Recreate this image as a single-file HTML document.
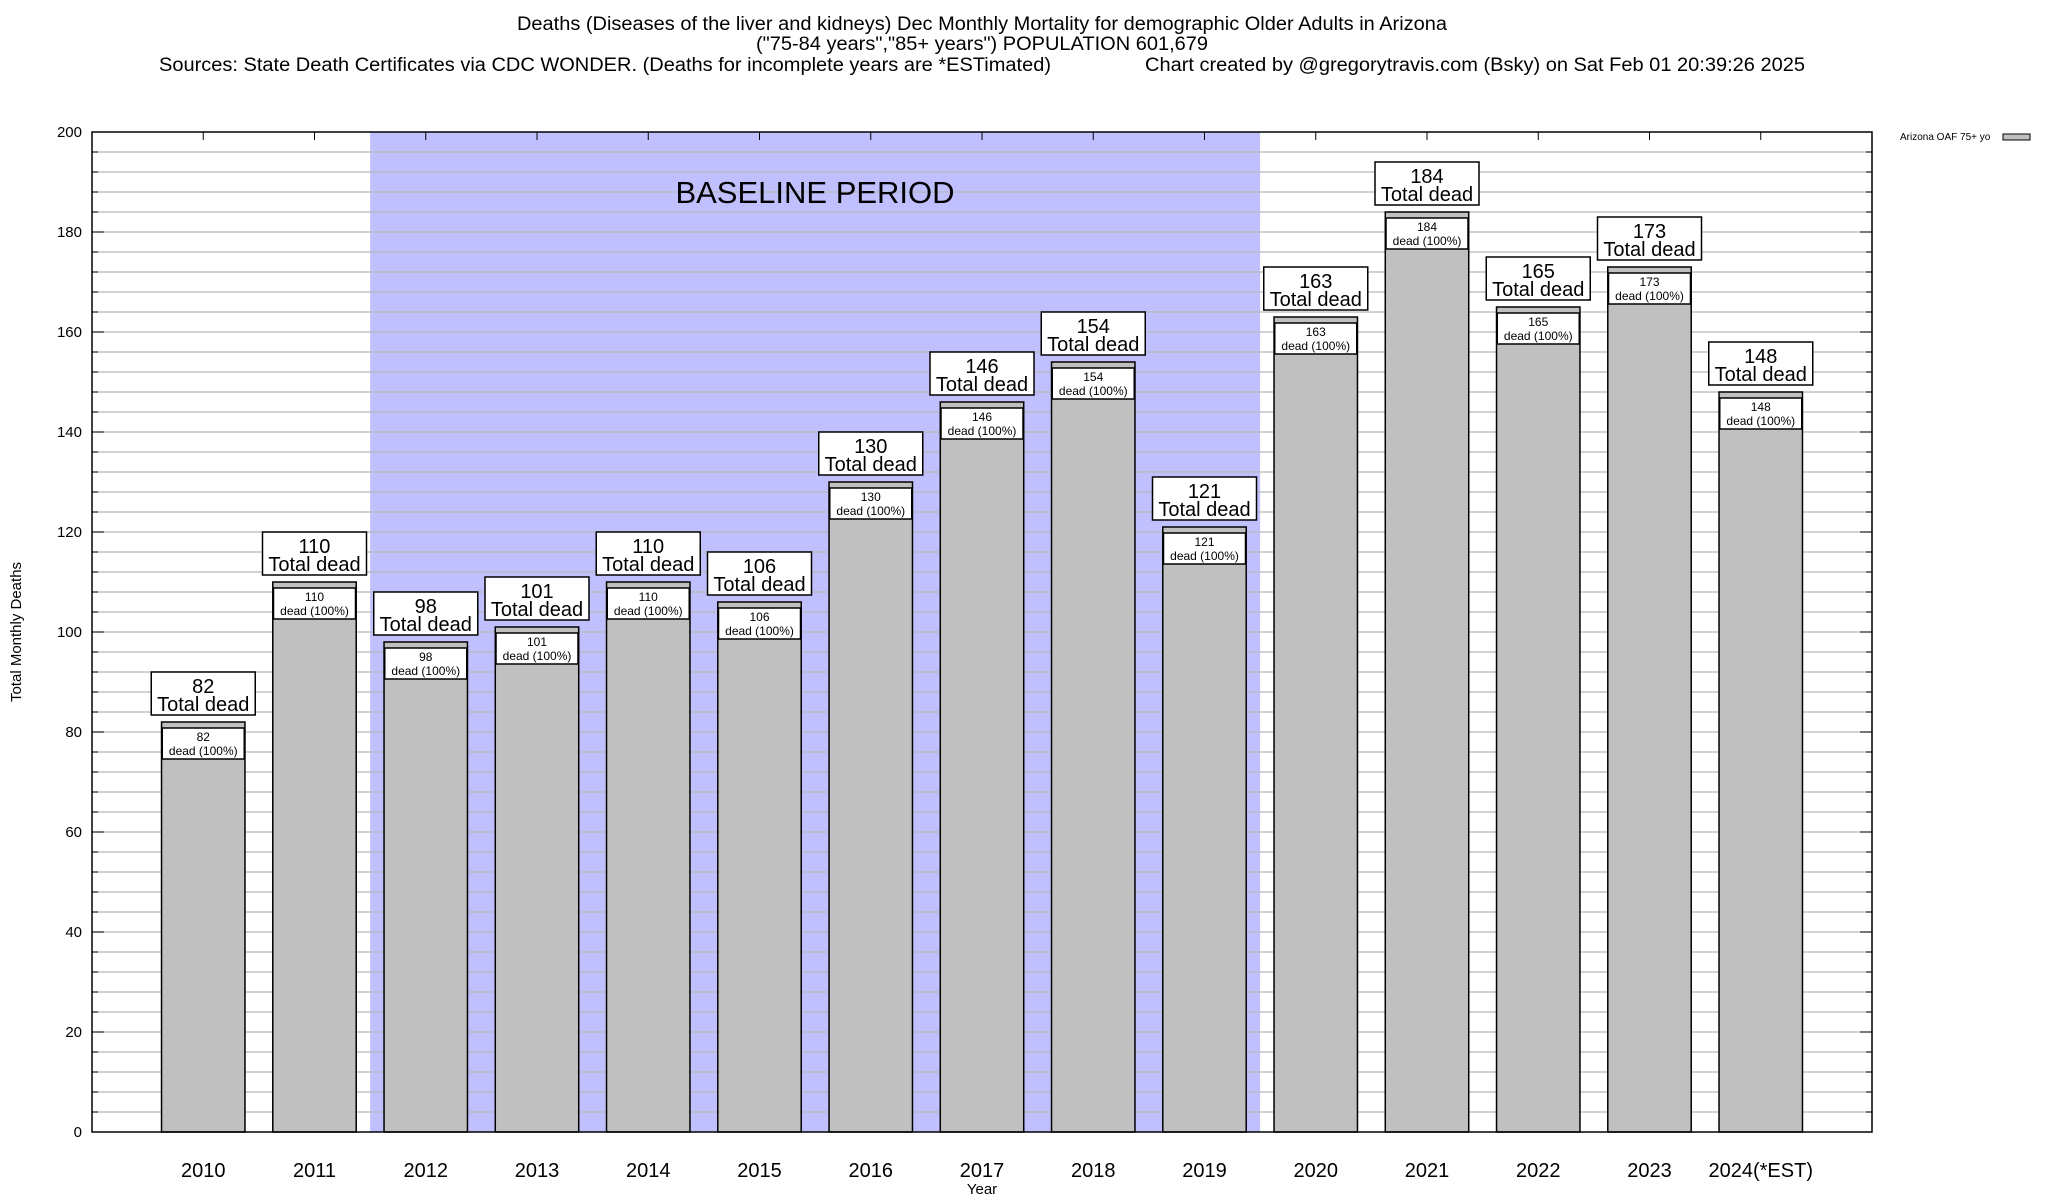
<!DOCTYPE html>
<html><head><meta charset="utf-8"><style>
body{margin:0;background:#fff}
svg{display:block;font-family:"Liberation Sans",sans-serif}
</style></head><body>
<svg id="c" width="2048" height="1200" xmlns="http://www.w3.org/2000/svg">
<text x="982" y="30" font-size="19" text-anchor="middle" textLength="930" lengthAdjust="spacingAndGlyphs">Deaths (Diseases of the liver and kidneys) Dec Monthly Mortality for demographic Older Adults in Arizona</text>
<text x="982" y="50" font-size="19" text-anchor="middle" textLength="452" lengthAdjust="spacingAndGlyphs">("75-84 years","85+ years") POPULATION 601,679</text>
<text x="159" y="71" font-size="19" textLength="892" lengthAdjust="spacingAndGlyphs">Sources: State Death Certificates via CDC WONDER. (Deaths for incomplete years are *ESTimated)</text>
<text x="1145" y="71" font-size="19" textLength="660" lengthAdjust="spacingAndGlyphs">Chart created by @gregorytravis.com (Bsky) on Sat Feb 01 20:39:26 2025</text>
<g id="plot"></g>
<text x="1900" y="140" font-size="10">Arizona OAF 75+ yo</text>
<rect x="2003" y="134" width="27" height="6" fill="#c0c0c0" stroke="#000"/>
<text transform="translate(21,632) rotate(-90)" font-size="15" text-anchor="middle">Total Monthly Deaths</text>
<text x="982" y="1194" font-size="15" text-anchor="middle">Year</text>
</svg>
<script>
const categories=["2010","2011","2012","2013","2014","2015","2016","2017","2018","2019","2020","2021","2022","2023","2024(*EST)"];
const deaths=[82,110,98,101,110,106,130,146,154,121,163,184,165,173,148];
const yTicks=[0,20,40,60,80,100,120,140,160,180,200];
const baselineStart="2012", baselineEnd="2019";
const L=92,R=1872,T=132,B=1132,YMAX=200;
const slot=(R-L)/(categories.length+1);
const xc=i=>L+slot*(i+1);
const y=v=>B-(v/YMAX)*(B-T);
const NS="http://www.w3.org/2000/svg";
const g=document.getElementById('plot');
function mk(t,a,p){const e=document.createElementNS(NS,t);for(const k in a)e.setAttribute(k,a[k]);(p||g).appendChild(e);return e;}
const bs=categories.indexOf(baselineStart),be=categories.indexOf(baselineEnd);
let sh=mk('rect',{x:xc(bs)-slot/2,y:T,width:slot*(be-bs+1),height:B-T,fill:'#c0c0ff'});


for(let v=4;v<YMAX;v+=4){
 let l=mk('line',{x1:L,x2:R,y1:y(v),y2:y(v),stroke:'#b8b8b8','stroke-width':1.3});
 
 
 mk('line',{x1:L,x2:L+6,y1:y(v),y2:y(v),stroke:'#000'});
 mk('line',{x1:R-6,x2:R,y1:y(v),y2:y(v),stroke:'#000'});
}
yTicks.forEach(v=>{
 mk('line',{x1:L,x2:L+12,y1:y(v),y2:y(v),stroke:'#000'});
 mk('line',{x1:R-12,x2:R,y1:y(v),y2:y(v),stroke:'#000'});
 let t=mk('text',{x:L-10,y:y(v)+5,'font-size':15,'text-anchor':'end'});t.textContent=v;
 
 
});
let bt=mk('text',{x:815,y:203,'font-size':31,'text-anchor':'middle'});bt.textContent='BASELINE PERIOD';


const bw=slot*0.75;
categories.forEach((c,i)=>{
 const cx=xc(i),v=deaths[i],top=y(v);
 mk('line',{x1:cx,x2:cx,y1:T,y2:T+8,stroke:'#000'});
 let b=mk('rect',{x:cx-bw/2,y:top,width:bw,height:B-top,fill:'#c0c0c0',stroke:'#000','stroke-width':1.5});
 
 
 let ib=mk('rect',{x:cx-41,y:top+6,width:82,height:31,fill:'#fff',stroke:'#000','stroke-width':1.5});
 
 
 let t1=mk('text',{x:cx,y:top+19,'font-size':12,'text-anchor':'middle'});t1.textContent=v;
 
 
 let t2=mk('text',{x:cx,y:top+33,'font-size':12,'text-anchor':'middle'});t2.textContent='dead (100%)';
 
 
 let ob=mk('rect',{x:cx-52,y:top-50,width:104,height:43,fill:'#fff',stroke:'#000','stroke-width':1.5});
 
 
 let t3=mk('text',{x:cx,y:top-29,'font-size':20,'text-anchor':'middle'});t3.textContent=v;
 
 
 let t4=mk('text',{x:cx,y:top-11,'font-size':20,'text-anchor':'middle'});t4.textContent='Total dead';
 
 
 let xl=mk('text',{x:cx,y:1177,'font-size':20,'text-anchor':'middle'});xl.textContent=c;
 
 
});
let fr=mk('rect',{x:L,y:T,width:R-L,height:B-T,fill:'none',stroke:'#000','stroke-width':1.5});


</script>
</body></html>
